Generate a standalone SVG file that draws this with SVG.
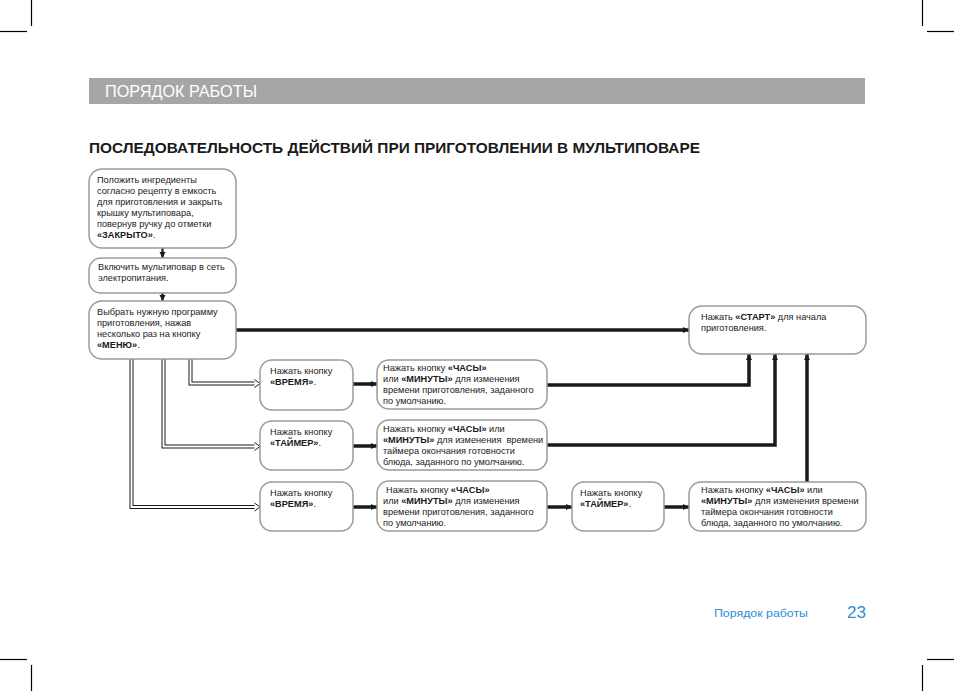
<svg xmlns="http://www.w3.org/2000/svg" width="954" height="691" viewBox="0 0 954 691">
<defs>
<style>
.box{fill:#fff;stroke:#9b9b9b;stroke-width:1.5}
.t{font-family:"Liberation Sans",Arial,sans-serif;font-size:9.2px;fill:#1a1a1a}
.b{font-weight:bold}
.thick{fill:none;stroke:#1a1a1a;stroke-width:3.5;stroke-linejoin:miter}
.thin{fill:none;stroke:#1a1a1a;stroke-width:2.2}
.dblo{fill:none;stroke:#1a1a1a;stroke-width:4;stroke-linejoin:miter}
.dbli{fill:none;stroke:#fff;stroke-width:2;stroke-linejoin:miter}
.chev{fill:#fff;stroke:#1a1a1a;stroke-width:1}
.crop{stroke:#000;stroke-width:1.2}
</style>
<marker id="ah" markerUnits="userSpaceOnUse" markerWidth="7" markerHeight="7" refX="6" refY="3.5" orient="auto">
<path d="M0,0.5 L6,3.5 L0,6.5 z" fill="#1a1a1a"/>
</marker>
</defs>
<rect width="954" height="691" fill="#fff"/>
<g id="cropmarks">
<line class="crop" x1="31.5" y1="0" x2="31.5" y2="26"/>
<line class="crop" x1="0" y1="31.5" x2="27" y2="31.5"/>
<line class="crop" x1="922.5" y1="0" x2="922.5" y2="26"/>
<line class="crop" x1="927" y1="31.5" x2="954" y2="31.5"/>
<line class="crop" x1="0" y1="659.5" x2="27" y2="659.5"/>
<line class="crop" x1="31.5" y1="665" x2="31.5" y2="691"/>
<line class="crop" x1="927" y1="659.5" x2="954" y2="659.5"/>
<line class="crop" x1="922.5" y1="665" x2="922.5" y2="691"/>
</g>
<g id="header">
<rect x="89" y="78" width="776" height="26" fill="#a6a6a6"/>
<text x="105" y="97" font-family="Liberation Sans,Arial,sans-serif" font-size="16" fill="#fff" textLength="152" lengthAdjust="spacingAndGlyphs">ПОРЯДОК РАБОТЫ</text>
<text x="89" y="153" font-family="Liberation Sans,Arial,sans-serif" font-size="14" font-weight="bold" fill="#1a1a1a" textLength="611" lengthAdjust="spacingAndGlyphs">ПОСЛЕДОВАТЕЛЬНОСТЬ ДЕЙСТВИЙ ПРИ ПРИГОТОВЛЕНИИ В МУЛЬТИПОВАРЕ</text>
</g>
<g id="connectors">
<line class="thin" x1="162.5" y1="248" x2="162.5" y2="258" marker-end="url(#ah)"/>
<line class="thin" x1="162.5" y1="293" x2="162.5" y2="301" marker-end="url(#ah)"/>
<line class="thick" x1="236" y1="330" x2="689" y2="330" marker-end="url(#ah)"/>
<path class="dblo" d="M190.5,359 V383.5 H255"/>
<path class="dbli" d="M190.5,358 V383.5 H255"/>
<polyline class="chev" points="254.5,379.5 260,383.5 254.5,387.5"/>
<path class="dblo" d="M163.5,359 V446.5 H255"/>
<path class="dbli" d="M163.5,358 V446.5 H255"/>
<polyline class="chev" points="254.5,442.5 260,446.5 254.5,450.5"/>
<path class="dblo" d="M131.5,359 V507 H255"/>
<path class="dbli" d="M131.5,358 V507 H255"/>
<polyline class="chev" points="254.5,503 260,507 254.5,511"/>
<line class="thick" x1="353" y1="384" x2="377" y2="384" marker-end="url(#ah)"/>
<line class="thick" x1="353" y1="446" x2="377" y2="446" marker-end="url(#ah)"/>
<line class="thick" x1="353" y1="507" x2="377" y2="507" marker-end="url(#ah)"/>
<line class="thick" x1="547" y1="507" x2="572" y2="507" marker-end="url(#ah)"/>
<line class="thick" x1="664" y1="507" x2="689" y2="507" marker-end="url(#ah)"/>
<path class="thick" d="M547,385 H749 V354" marker-end="url(#ah)"/>
<path class="thick" d="M547,445 H775 V354" marker-end="url(#ah)"/>
<path class="thick" d="M807,482 V354" marker-end="url(#ah)"/>
</g>
<g id="n1">
<rect class="box" x="89" y="169" width="147" height="79" rx="13"/>
<text class="t" x="97" y="183">Положить ингредиенты</text>
<text class="t" x="97" y="194">согласно рецепту в емкость</text>
<text class="t" x="97" y="205">для приготовления и закрыть</text>
<text class="t" x="97" y="216">крышку мультиповара,</text>
<text class="t" x="97" y="227">повернув ручку до отметки</text>
<text class="t" x="97" y="238"><tspan class="b">«ЗАКРЫТО»</tspan>.</text>
</g>
<g id="n2">
<rect class="box" x="89" y="258" width="147" height="35" rx="12"/>
<text class="t" x="98" y="270">Включить мультиповар в сеть</text>
<text class="t" x="98" y="281">электропитания.</text>
</g>
<g id="n3">
<rect class="box" x="89" y="301" width="147" height="58" rx="13"/>
<text class="t" x="97" y="315">Выбрать нужную программу</text>
<text class="t" x="97" y="326">приготовления, нажав</text>
<text class="t" x="97" y="337">несколько раз на кнопку</text>
<text class="t" x="97" y="348"><tspan class="b">«МЕНЮ»</tspan>.</text>
</g>
<g id="n4">
<rect class="box" x="260" y="360" width="93" height="50" rx="12"/>
<text class="t" x="270" y="374">Нажать кнопку</text>
<text class="t" x="270" y="385"><tspan class="b">«ВРЕМЯ»</tspan>.</text>
</g>
<g id="n5">
<rect class="box" x="377" y="360" width="170" height="49" rx="12"/>
<text class="t" x="383" y="371">Нажать кнопку <tspan class="b">«ЧАСЫ»</tspan></text>
<text class="t" x="383" y="382">или <tspan class="b">«МИНУТЫ»</tspan> для изменения</text>
<text class="t" x="383" y="393">времени приготовления, заданного</text>
<text class="t" x="383" y="404">по умолчанию.</text>
</g>
<g id="n6">
<rect class="box" x="260" y="421" width="93" height="49" rx="12"/>
<text class="t" x="270" y="435">Нажать кнопку</text>
<text class="t" x="270" y="446"><tspan class="b">«ТАЙМЕР»</tspan>.</text>
</g>
<g id="n7">
<rect class="box" x="377" y="420" width="170" height="50" rx="12"/>
<text class="t" x="383" y="432">Нажать кнопку <tspan class="b">«ЧАСЫ»</tspan> или</text>
<text class="t" x="383" y="443" xml:space="preserve"><tspan class="b">«МИНУТЫ»</tspan> для изменения  времени</text>
<text class="t" x="383" y="454">таймера окончания готовности</text>
<text class="t" x="383" y="465">блюда, заданного по умолчанию.</text>
</g>
<g id="n8">
<rect class="box" x="260" y="482" width="93" height="49" rx="12"/>
<text class="t" x="270" y="496">Нажать кнопку</text>
<text class="t" x="270" y="507"><tspan class="b">«ВРЕМЯ»</tspan>.</text>
</g>
<g id="n9">
<rect class="box" x="377" y="481" width="170" height="50" rx="12"/>
<text class="t" x="386" y="493">Нажать кнопку <tspan class="b">«ЧАСЫ»</tspan></text>
<text class="t" x="383" y="504">или <tspan class="b">«МИНУТЫ»</tspan> для изменения</text>
<text class="t" x="383" y="515">времени приготовления, заданного</text>
<text class="t" x="383" y="526">по умолчанию.</text>
</g>
<g id="n10">
<rect class="box" x="572" y="482" width="92" height="49" rx="12"/>
<text class="t" x="580" y="496">Нажать кнопку</text>
<text class="t" x="580" y="507"><tspan class="b">«ТАЙМЕР»</tspan>.</text>
</g>
<g id="n11">
<rect class="box" x="689" y="482" width="177" height="49" rx="12"/>
<text class="t" x="701" y="493">Нажать кнопку <tspan class="b">«ЧАСЫ»</tspan> или</text>
<text class="t" x="701" y="504"><tspan class="b">«МИНУТЫ»</tspan> для изменения времени</text>
<text class="t" x="701" y="515">таймера окончания готовности</text>
<text class="t" x="701" y="526">блюда, заданного по умолчанию.</text>
</g>
<g id="n12">
<rect class="box" x="689" y="306" width="177" height="48" rx="13"/>
<text class="t" x="701" y="320">Нажать <tspan class="b">«СТАРТ»</tspan> для начала</text>
<text class="t" x="701" y="331">приготовления.</text>
</g>
<g id="footer">
<text x="714" y="617" font-family="Liberation Sans,Arial,sans-serif" font-size="11.5" fill="#2a8fd4" textLength="94" lengthAdjust="spacingAndGlyphs">Порядок работы</text>
<text x="847" y="618" font-family="Liberation Sans,Arial,sans-serif" font-size="17" fill="#2a8fd4">23</text>
</g>
</svg>
